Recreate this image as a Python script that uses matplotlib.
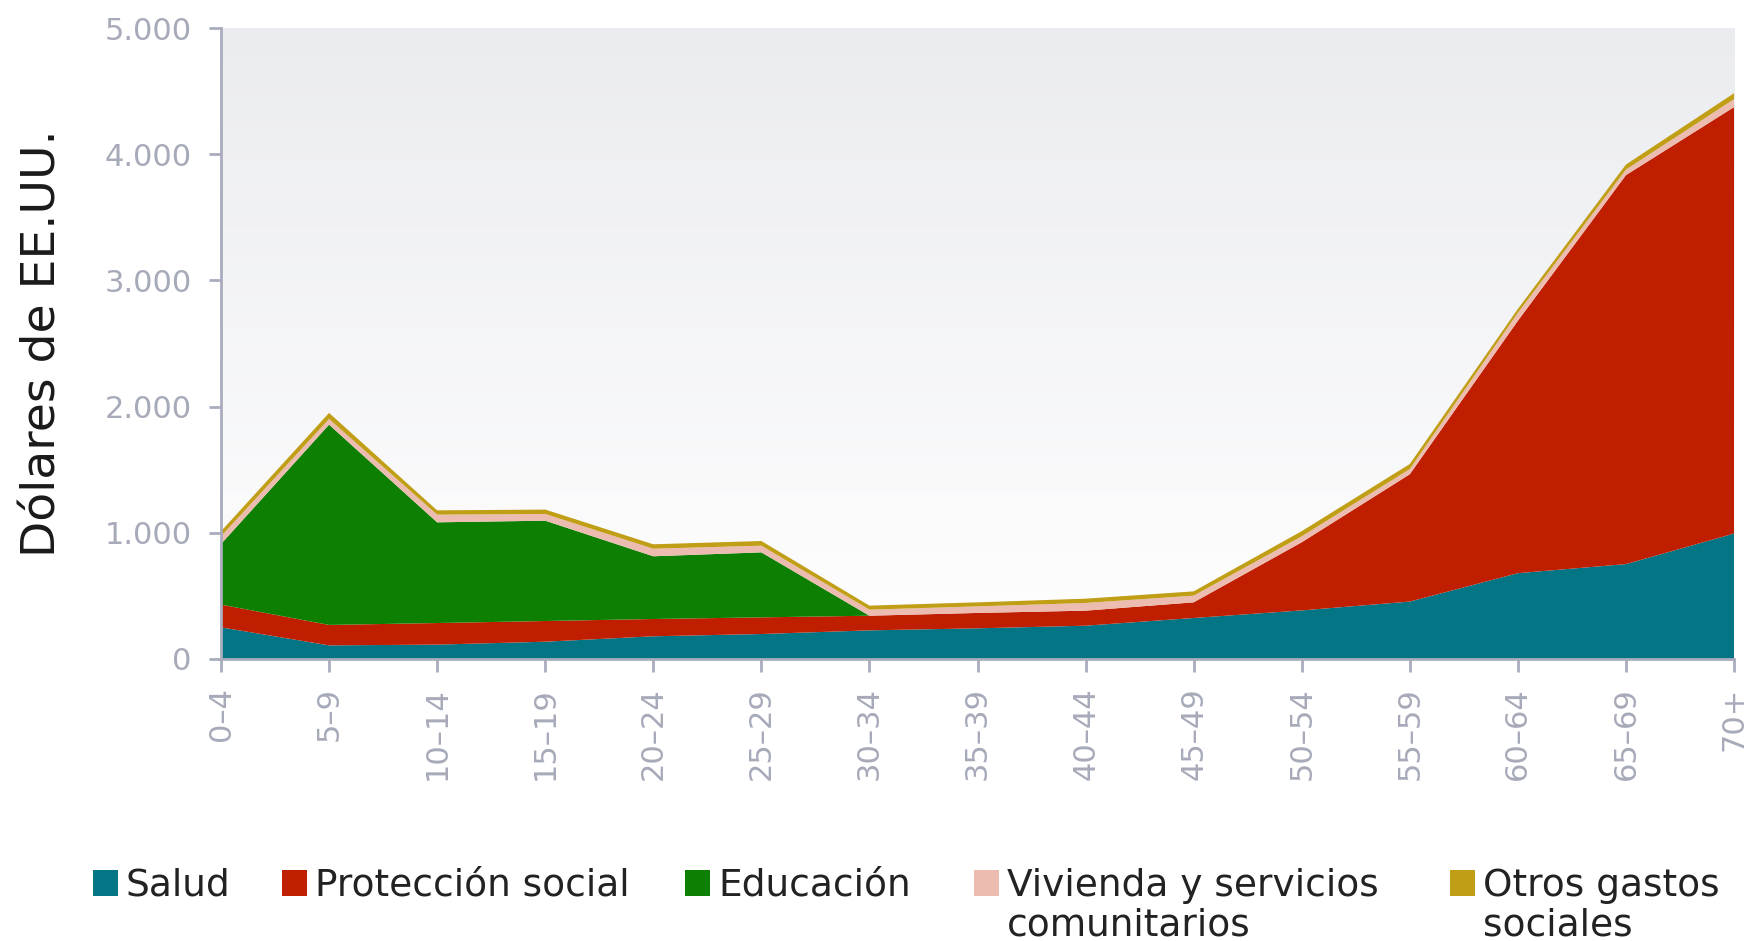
import numpy as np
import matplotlib.pyplot as plt
from matplotlib.patches import Rectangle
from matplotlib.colors import LinearSegmentedColormap

# Data (USD per person, by age group)
grupos = ["0–4", "5–9", "10–14", "15–19", "20–24", "25–29", "30–34", "35–39",
          "40–44", "45–49", "50–54", "55–59", "60–64", "65–69", "70+"]
salud = [251, 108, 114, 137, 180, 198, 227, 243, 264, 325, 385, 455, 680, 752, 994]
proteccion = [180, 162, 171, 164, 137, 132, 116, 122, 119, 124, 540, 1009, 2000, 3082, 3379]
educacion = [480, 1587, 798, 795, 497, 515, 0, 0, 0, 0, 0, 0, 0, 0, 0]
vivienda = [61, 45, 61, 53, 60, 53, 48, 52, 61, 53, 47, 41, 63, 44, 63]
otros = [40, 48, 34, 35, 35, 37, 32, 32, 34, 34, 41, 40, 31, 40, 47]

series = [salud, proteccion, educacion, vivienda, otros]
nombres = ["Salud", "Protección social", "Educación",
           "Vivienda y servicios\ncomunitarios", "Otros gastos\nsociales"]
colores = ["#047585", "#bf1e00", "#0d7f03", "#ecbcb0", "#c09e15"]

tick_color = "#a7aab9"
axis_color = "#a8acbd"
plt.rcParams['font.family'] = ['DejaVu Sans']

fig = plt.figure(figsize=(17.52, 9.41), dpi=100)
ax = fig.add_axes([221 / 1752, 1 - 659 / 941, (1734 - 221) / 1752, (659 - 28) / 941])

x = np.arange(len(grupos))
ax.stackplot(x, *series, colors=colores, linewidth=0, zorder=2)

# gradient background
grad = np.linspace(0, 1, 256).reshape(-1, 1)
ax.imshow(grad, extent=[0, 14, 0, 5000], aspect='auto', zorder=0, origin='upper',
          cmap=LinearSegmentedColormap.from_list("bg", ["#ebecf0", "#ffffff"]))

ax.set_xlim(0, 14)
ax.set_ylim(0, 5000)
ax.set_xticks(x)
ax.set_xticklabels(grupos, rotation=90, va='top', ha='center')
ax.set_yticks([0, 1000, 2000, 3000, 4000, 5000])
ax.set_yticklabels(["0", "1.000", "2.000", "3.000", "4.000", "5.000"])

for s in ["top", "right"]:
    ax.spines[s].set_visible(False)
for s in ["left", "bottom"]:
    ax.spines[s].set_color(axis_color)
    ax.spines[s].set_linewidth(2)
ax.tick_params(axis='both', colors=axis_color, labelcolor=tick_color,
               labelsize=22, length=9, width=2, direction='out')
ax.tick_params(axis='y', pad=12)
ax.tick_params(axis='x', pad=11)

ax.set_ylabel("Dólares de EE.UU.", fontsize=34, color="#1a1a1a")
ax.yaxis.set_label_coords(-0.103, 0.5)

# legend drawn along the bottom
sq_x = [93, 282, 685, 974, 1450]
for i in range(len(nombres)):
    fig.patches.append(Rectangle((sq_x[i] / 1752, 1 - 896 / 941), 25 / 1752, 26 / 941,
                                 transform=fig.transFigure, facecolor=colores[i],
                                 edgecolor='none'))
    for j, linea in enumerate(nombres[i].split("\n")):
        fig.text((sq_x[i] + 33) / 1752, 1 - (896 + 39 * j) / 941, linea, fontsize=27,
                 color="#222222", ha='left', va='baseline')

fig.savefig("out.png", dpi=100)
